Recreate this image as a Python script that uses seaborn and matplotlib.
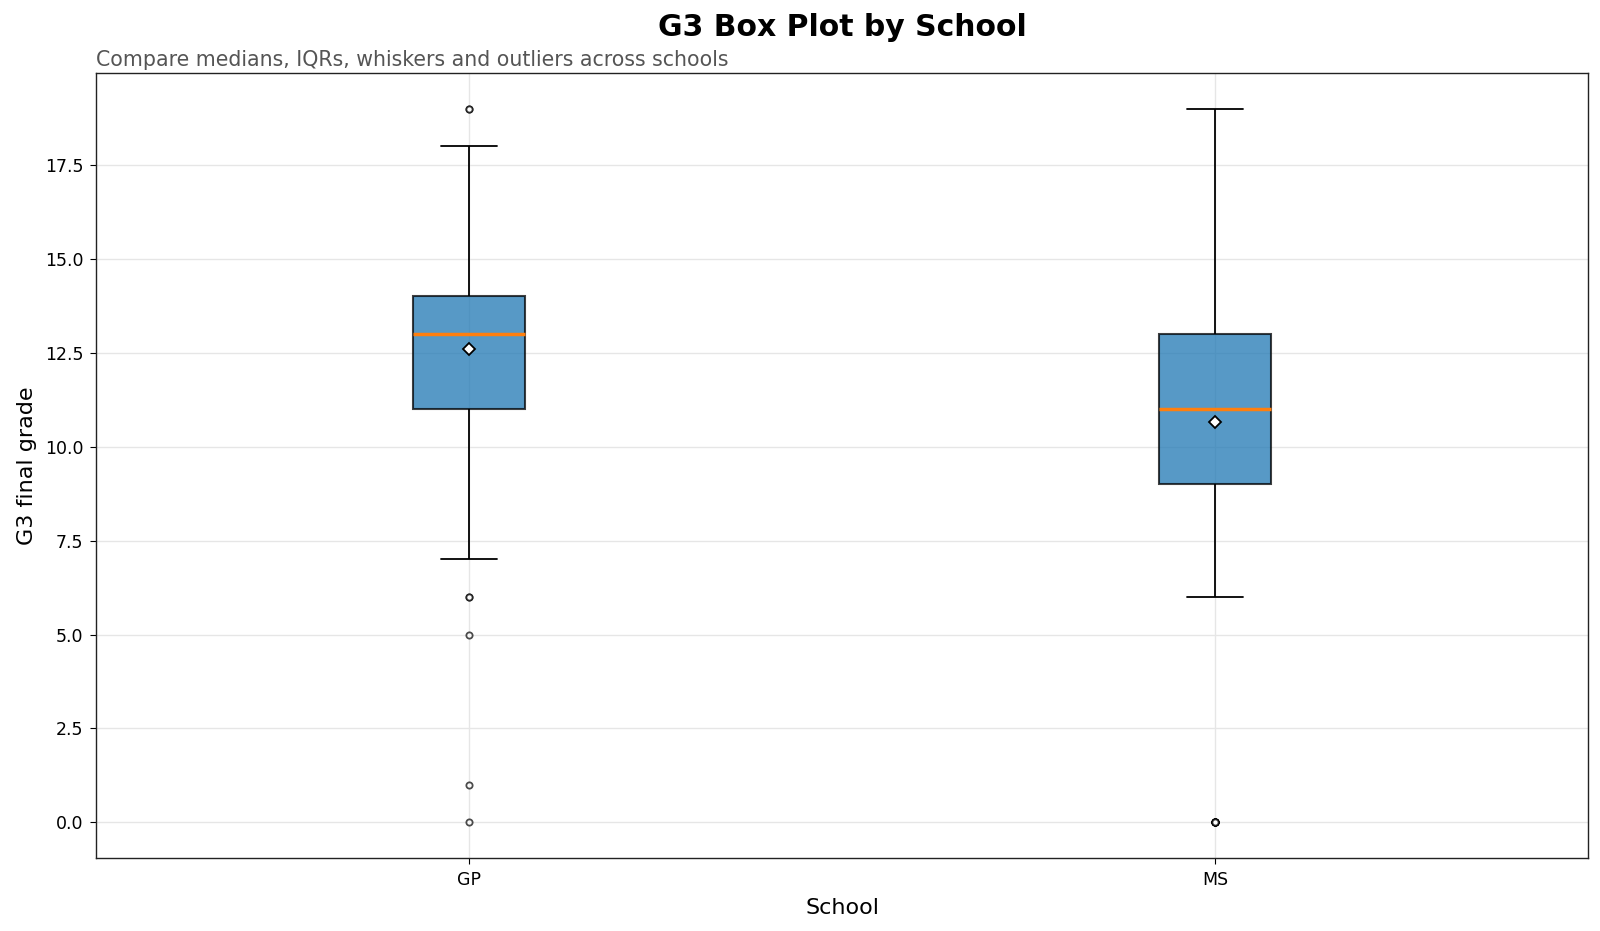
import numpy as np
import pandas as pd
import matplotlib
matplotlib.use("Agg")
import matplotlib.pyplot as plt
import seaborn as sns

# G3 grade counts per school
gp_grades = [0, 1, 5, 6, 7, 8, 9, 10, 11, 12, 13, 14, 15, 16, 17, 18, 19]
gp_counts = [1, 1, 1, 2, 3, 8, 15, 40, 63, 72, 81, 50, 37, 22, 15, 10, 2]
ms_grades = [0, 6, 7, 8, 9, 10, 11, 12, 13, 14, 15, 16, 17, 18, 19]
ms_counts = [9, 3, 6, 20, 33, 40, 33, 22, 28, 10, 7, 7, 4, 3, 1]
schools = ["GP", "MS"]

df = pd.DataFrame({
    "school": ["GP"] * sum(gp_counts) + ["MS"] * sum(ms_counts),
    "G3": np.concatenate([np.repeat(gp_grades, gp_counts),
                          np.repeat(ms_grades, ms_counts)]),
})

sns.set_style("white")
plt.rcParams['font.family'] = ['DejaVu Sans']
plt.rcParams['text.color'] = 'black'
plt.rcParams['axes.labelcolor'] = 'black'
plt.rcParams['xtick.color'] = 'black'
plt.rcParams['ytick.color'] = 'black'

fig, ax = plt.subplots(figsize=(16, 9.31), dpi=100)
fig.subplots_adjust(left=0.06, right=0.9925, top=0.9216, bottom=0.0784)

sns.boxplot(
    data=df, x="school", y="G3", order=schools, ax=ax,
    width=0.15, showmeans=True, linewidth=1.5, linecolor="black",
    boxprops=dict(facecolor="#1f77b4", alpha=0.75, edgecolor="black"),
    medianprops=dict(color="#ff7f0e", linewidth=2.5, alpha=1),
    whiskerprops=dict(color="black", linewidth=1.3),
    capprops=dict(color="black", linewidth=1.3),
    meanprops=dict(marker="D", markerfacecolor="white", markeredgecolor="black",
                   markersize=6.5, markeredgewidth=1.3),
    flierprops=dict(marker="o", markerfacecolor="white", markeredgecolor="black",
                    markersize=4.5, alpha=0.7, markeredgewidth=1.3),
)

ax.grid(True, color="#e6e6e6", linewidth=1)
ax.set_axisbelow(True)
for s in ax.spines.values():
    s.set_color("#222222")
    s.set_linewidth(1)
ax.tick_params(axis="both", labelsize=12.5, length=4, pad=5, color="black", left=True, bottom=True)
ax.set_xlim(-0.5, 1.5)
ax.set_ylim(-0.95, 19.95)
ax.set_yticks(np.arange(0, 18, 2.5))
ax.set_xlabel("School", fontsize=16, labelpad=7)
ax.set_ylabel("G3 final grade", fontsize=16, labelpad=6)

ax.text(0.5, 1.04, "G3 Box Plot by School", transform=ax.transAxes,
        ha="center", va="bottom", fontsize=21.5, fontweight="bold")
ax.text(0.0, 1.004, "Compare medians, IQRs, whiskers and outliers across schools",
        transform=ax.transAxes, ha="left", va="bottom", fontsize=14.8, color="#555555")

plt.savefig("out.png")
